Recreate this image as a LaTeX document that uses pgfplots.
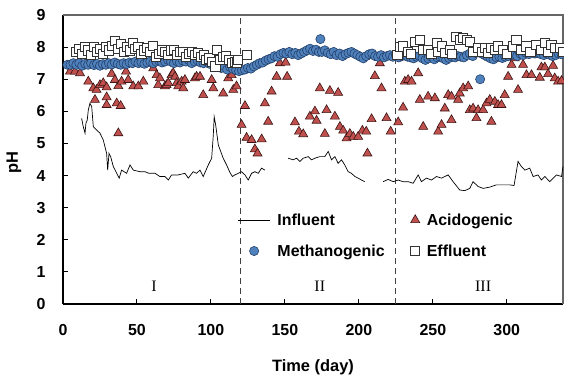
\documentclass[border=0pt]{standalone}
\usepackage{pgfplots}
\pgfplotsset{compat=1.18}
\usepackage{fontspec}
\setmainfont{Liberation Sans}
\newfontfamily\romfont{Liberation Serif}
\usetikzlibrary{calc}
\definecolor{acid}{HTML}{C0504D}
\definecolor{meth}{HTML}{4F81BD}
\definecolor{methedge}{HTML}{23406A}
\definecolor{acidedge}{HTML}{3A1414}
\pgfplotsset{
  lineleg/.style={legend image code/.code={\draw[##1] (0bp,0bp) -- (32bp,0bp);}},
  markleg/.style={legend image code/.code={\draw[mark repeat=2,mark phase=2,##1] plot coordinates {(0bp,0bp)(16bp,0bp)(32bp,0bp)};}},
}
\begin{document}
\begin{tikzpicture}
\begin{axis}[
  name=ax,
  scale only axis,
  width=500bp, height=289bp,
  xmin=0, xmax=338, ymin=0, ymax=9,
  axis lines*=left,
  axis line style={black, line width=1.6bp},
  xtick={0,50,100,150,200,250,300},
  ytick={0,1,2,3,4,5,6,7,8,9},
  tick align=inside,
  major tick length=5bp,
  tick style={black, line width=1bp},
  /pgf/number format/assume math mode=true,
  ticklabel style={font=\bfseries\fontsize{16}{18}\selectfont},
  yticklabel style={xshift=-14bp},
  xticklabel style={yshift=-17bp},
  xlabel={Time (day)},
  ylabel={pH},
  label style={font=\bfseries\fontsize{16.5}{19}\selectfont},
  xlabel style={at={(axis description cs:0.5,-0.22)}, anchor=center},
  ylabel style={at={(axis description cs:-0.098,0.49)}, anchor=center},
  clip=false,
  unbounded coords=jump,
  legend columns=2,
  legend cell align=left,
  legend style={draw=none, fill=none, at={(axis cs:116,2.95)}, anchor=north west,
    font=\bfseries\fontsize{16}{18}\selectfont,
    row sep=14bp,
    /tikz/every odd column/.append style={column sep=5bp},
    /tikz/every even column/.append style={column sep=24bp}},
  markleg,
]
% top and right frame
\draw[gray!80!black, line width=1.4bp] (rel axis cs:0,1) -- (rel axis cs:1,1) -- (rel axis cs:1,0);
% dashed phase lines
\addplot[forget plot, color=black!75, line width=1bp, dash pattern=on 6bp off 4bp] coordinates {(120,0)(120,9)};
\addplot[forget plot, color=black!75, line width=1bp, dash pattern=on 6bp off 4bp] coordinates {(225,0)(225,9)};
% Influent
\addplot[black, line width=0.7bp, mark=none, lineleg] coordinates {
(12.6,5.78)(13.7,5.52)(14.9,5.32)(15.5,5.63)(16.4,5.73)(17.1,6.04)(18.2,6.25)(19.4,6.15)
(20.5,5.52)(22.7,5.42)(25,5.32)(27.2,5.11)(29.5,4.69)(30.2,4.17)(31.1,4.69)(32.2,4.59)
(34,4.28)(36.3,4.07)(38,3.92)(39.6,4.17)(43,4.07)(45.3,4.33)(47.5,4.17)(52,4.12)(55.4,4.12)
(58,4.07)(62.2,4.07)(65.5,3.97)(68.9,3.97)(71.2,3.86)(73.4,4.02)(77.9,4.02)(82.4,4.07)
(84.7,3.92)(88,4.12)(90.3,4.07)(92.6,4.17)(94.8,3.97)(98.2,4.33)(100.5,4.54)(101.6,5.26)
(102.2,5.83)(103.2,5.58)(105,4.95)(108.3,4.54)(110.6,4.33)(112.8,4.1)(114.5,3.97)(116.2,4.02)
(118.5,4.07)(120.7,4.12)(123,4.02)(125.2,3.86)(127.5,4.07)(129.7,4.12)(132,4.07)(134.2,4.23)(136.5,4.17)
(137,nan)
(152.2,4.54)(155.6,4.49)(157.9,4.54)(160.1,4.44)(162.4,4.54)(165.7,4.59)(168,4.49)(170.3,4.54)
(173.6,4.59)(177,4.59)(179.3,4.75)(181.5,4.49)(183.8,4.59)(186,4.38)(188.3,4.49)(190.5,4.33)
(192.8,4.12)(195,4.07)(197.3,3.97)(199.5,3.92)(201.8,3.86)(204,3.81)
(205,nan)
(216.4,3.81)(219.8,3.88)(223.2,3.81)(226.6,3.86)(229.9,3.81)(233.3,3.81)(236.7,3.76)(240.1,4.02)
(242.3,3.81)(245.7,3.92)(249.1,3.86)(252.5,3.97)(255.9,3.92)(260.4,4.02)(263.7,3.81)(268.2,3.55)
(271.6,3.53)(275,3.6)(277.2,3.81)(280.6,3.66)(284,3.6)(288.5,3.64)(293,3.71)(297.5,3.71)
(302,3.71)(304.9,3.69)(307.6,4.44)(309.9,4.28)(312.2,4.17)(315.5,4.23)(317.8,3.97)(321.1,4.02)
(323.4,3.86)(325.7,3.97)(329.1,3.81)(333.6,4.02)(337,3.97)(338,4.28)
};
\addlegendentry{Influent}
% Acidogenic
\addplot[only marks, mark=triangle*, mark size=5.2bp,
  mark options={fill=acid, draw=acidedge, line width=0.6bp}] coordinates {
(4.7,7.24)(8.1,7.24)(11.5,7.19)(17.1,6.93)(20.5,6.72)(21.6,6.36)(22.7,6.67)(25,6.82)
(27.2,6.88)(29.5,6.75)(29.5,6.44)(29.5,6.2)(32.9,7.17)(35.1,6.98)(36.3,6.25)(37.4,6.79)
(37.4,5.32)(39,6.17)(39.6,6.93)(42.6,7.24)(44.1,6.98)(47.5,6.78)(50.9,6.78)(54.3,6.93)
(61,7.34)(63.3,7.13)(64.4,6.82)(65.5,7.03)(68.9,6.78)(70,6.82)(71.2,6.88)(73.4,7.13)
(74.5,7.19)(75.7,7.08)(76.8,6.88)(77.9,6.78)(80.2,6.93)(81.3,6.72)(82.4,6.98)(89.2,7.03)
(90.3,7.08)(92.6,7.08)(94.8,6.51)(100.5,6.98)(101.6,6.72)(108.3,6.56)(111.7,7.03)(114,7.13)
(115.1,6.67)(117.3,6.78)(120.7,5.58)(123,6.17)(124.1,5.18)(127.5,5.11)(129.7,4.82)(131.5,4.69)
(134.3,5.13)(136.5,6.25)(138.7,5.68)(141,6.62)(144.4,7.08)(146.6,7.5)(150.5,7.52)(151.5,7.08)
(156.8,5.66)(159.5,5.37)(162.4,5.29)(166.9,5.84)(170.3,6.0)(171.4,5.71)(173.6,6.72)(177,5.3)
(178.2,6.04)(180.4,6.64)(183.8,5.84)(186,6.58)(187.2,5.52)(189.4,5.4)(191.7,5.16)(193.9,5.3)
(196.2,5.21)(199.5,5.21)(202.4,5.4)(205,5.37)(205.8,4.69)(208.6,5.76)(210.8,7.1)(214.2,7.5)
(215.3,6.72)(218.7,5.79)(221.5,5.37)(226.6,5.66)(229.9,6.12)(231.1,6.93)(233.3,6.98)(235.6,6.93)
(240.1,7.19)(241.2,6.36)(243.5,5.52)(246.8,6.46)(251.4,6.41)(253.6,5.37)(255.9,5.58)(258.1,6.09)
(260.4,6.51)(262.6,6.46)(262.6,5.73)(267.1,6.36)(268.2,6.56)(270.5,6.72)(273.9,6.78)(275,6.04)
(277.2,6.09)(279.5,5.79)(280.6,6.04)(284,6.04)(286.3,6.25)(288.5,6.36)(289.6,5.68)(291.9,6.3)
(294.1,6.2)(296.4,6.2)(298.6,6.51)(300.9,7.08)(303.2,7.45)(305.4,7.65)(307.6,6.67)(311,7.45)
(313.3,7.13)(316.7,7.13)(322.3,7.05)(323.4,7.37)(325.7,7.37)(327.9,7.16)(331.3,7.42)(332.4,7.03)
(334.7,6.93)(337,6.95)
};
\addlegendentry{Acidogenic}
% Methanogenic
\addplot[only marks, mark=*, mark size=4.6bp,
  mark options={fill=meth, draw=methedge, line width=0.6bp}] coordinates {
(3,7.45)(5,7.45)(7,7.5)(9,7.45)(11,7.5)(13,7.42)(15,7.48)(17,7.45)(19,7.5)(21,7.44)(23,7.48)
(25,7.42)(27,7.47)(29,7.45)(31,7.5)(33,7.46)(35,7.52)(37,7.48)(39,7.45)(41,7.5)(43,7.47)
(45,7.52)(47,7.5)(49,7.55)(51,7.5)(53,7.53)(55,7.48)(57,7.52)(59,7.55)(61,7.5)(63,7.55)
(65,7.58)(67,7.52)(69,7.55)(71,7.6)(73,7.55)(75,7.5)(77,7.56)(79,7.52)(81,7.58)(83,7.55)
(85,7.6)(87,7.5)(89,7.55)(91,7.58)(93,7.52)(95,7.5)(97,7.55)(99,7.48)(101,7.52)(103,7.45)
(105,7.4)(107,7.35)(109,7.42)(111,7.3)(113,7.38)(115,7.32)(117,7.28)(119,7.25)(121,7.28)
(123,7.3)(125,7.35)(127,7.33)(129,7.4)(131,7.45)(133,7.5)(135,7.52)(137,7.58)(139,7.62)
(141,7.65)(143,7.72)(145,7.7)(147,7.78)(149,7.82)(151,7.8)(153,7.85)(155,7.78)(157,7.82)
(159,7.75)(161,7.8)(163,7.85)(165,7.9)(167,7.95)(169,7.88)(171,7.92)(173,7.85)(174,8.25)
(175,7.85)(177,7.9)(179,7.82)(181,7.78)(183,7.85)(185,7.75)(187,7.8)(189,7.72)(191,7.78)
(193,7.82)(195,7.85)(197,7.8)(199,7.75)(201,7.7)(203,7.65)(205,7.72)(207,7.78)(209,7.8)
(211,7.72)(213,7.7)(215,7.75)(217,7.68)(219,7.72)(221,7.75)(223,7.7)(225,7.75)(227,7.68)
(229,7.72)(231,7.75)(233,7.7)(235,7.68)(237,7.65)(239,7.7)(241,7.72)(243,7.65)(245,7.6)
(247,7.65)(249,7.7)(251,7.62)(253,7.68)(255,7.7)(257,7.65)(259,7.6)(261,7.66)(263,7.7)
(265,7.68)(267,7.72)(269,7.7)(271,7.68)(273,7.75)(275,7.8)(277,7.72)(279,7.82)(281,7.85)
(282,7.0)(283,7.8)(285,7.75)(287,7.7)(289,7.65)(291,7.62)(293,7.68)(295,7.7)(297,7.66)
(299,7.7)(301,7.72)(303,7.75)(305,7.78)(307,7.72)(309,7.8)(311,7.75)(313,7.82)(315,7.78)
(317,7.85)(319,7.8)(321,7.82)(323,7.78)(325,7.75)(327,7.8)(329,7.76)(331,7.72)(333,7.75)
(335,7.8)(337,7.78)
};
\addlegendentry{Methanogenic}
% Effluent
\addplot[only marks, mark=square*, mark size=4.6bp,
  mark options={fill=white, draw=black!80, line width=0.8bp}] coordinates {
(9,7.85)(11,7.95)(13,7.8)(15,8.0)(17,7.9)(19,7.75)(21,8.0)(23,7.85)(25,7.95)(27,7.8)
(29,8.0)(31,7.9)(33,8.05)(35,8.2)(37,7.95)(39,8.1)(41,7.85)(43,8.0)(45,7.9)(47,8.12)
(49,7.95)(51,8.0)(53,7.8)(55,7.9)(57,7.97)(59,7.85)(61,8.05)(63,7.7)(65,7.8)(67,7.9)
(69,7.86)(71,7.75)(73,7.9)(75,7.92)(77,7.76)(79,7.85)(81,7.86)(83,7.7)(85,7.8)(87,7.86)
(89,7.75)(91,7.81)(93,7.7)(95,7.76)(97,7.6)(99,7.65)(101,7.55)(103,7.4)(104,7.92)(106,7.6)
(108,7.7)(110,7.71)(112,7.6)(114,7.5)(116,7.55)(117.3,7.5)(118.5,7.6)(124.1,7.76)
(226,7.76)(228,8.0)(230,8.02)(233.3,7.86)(235,7.8)(237.8,8.17)(241.2,8.22)(243.5,7.92)
(246.8,7.92)(249,7.8)(252.5,8.12)(253.6,7.86)(255.9,8.02)(258.1,7.81)(261.5,7.92)(263,7.8)
(266,8.33)(268.2,8.22)(270.5,8.28)(272.8,8.22)(275,8.15)(277,7.85)(280.6,7.97)(283,7.85)
(285.1,7.97)(287,7.82)(289.6,7.97)(291.9,7.92)(294.1,8.02)(297.5,7.92)(300,7.8)(304.3,8.02)
(306.5,8.22)(309.9,7.92)(313.3,8.02)(316,7.85)(320,8.07)(323.4,7.92)(325.7,8.12)(328,7.85)
(330.2,8.07)(332.4,7.97)(335.8,7.97)(338,7.86)
};
\addlegendentry{Effluent}
% phase labels
\node[font=\romfont\fontsize{16}{18}\selectfont] at (axis cs:61.5,0.56) {I};
\node[font=\romfont\fontsize{16}{18}\selectfont] at (axis cs:173.6,0.56) {II};
\node[font=\romfont\fontsize{16}{18}\selectfont] at (axis cs:284,0.56) {III};
\end{axis}
\pgfresetboundingbox
\path[use as bounding box] ($(ax.south west)+(-63bp,-72bp)$) rectangle ($(ax.north east)+(1bp,15bp)$);
\end{tikzpicture}
\end{document}
